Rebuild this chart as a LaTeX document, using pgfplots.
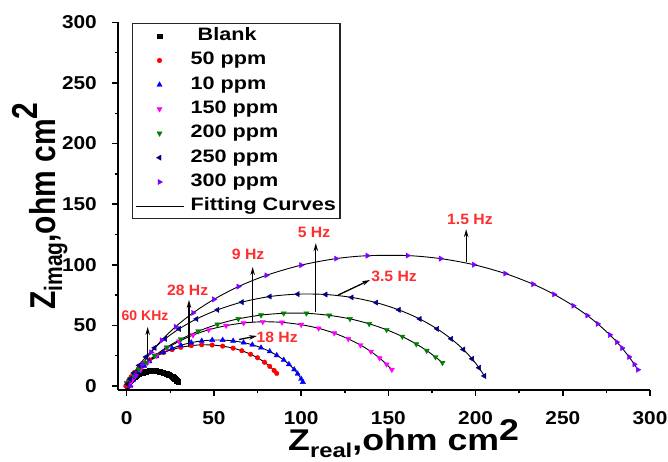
\documentclass[border=0pt]{standalone}
\usepackage{fontspec}
\setmainfont{Liberation Sans}
\usepackage{graphicx}
\usepackage{pgfplots}
\pgfplotsset{compat=1.18}
\usepackage{pgfplotstable}
\usetikzlibrary{arrows.meta}

\definecolor{navyc}{RGB}{0,0,128}
\definecolor{violetc}{RGB}{128,0,255}
\definecolor{greenc}{RGB}{0,128,0}
\definecolor{magc}{RGB}{255,0,255}
\definecolor{annred}{RGB}{255,45,45}

\newcommand{\tk}[1]{\scalebox{1.12}[1]{#1}}
\newcommand{\sx}[1]{\scalebox{1.2}[1]{#1}}
\newcommand{\tkf}{\fontsize{18.6}{20}\selectfont\bfseries}
\newcommand{\legf}{\fontsize{18}{20}\selectfont\bfseries}
\newcommand{\annf}{\fontsize{15}{16}\selectfont\bfseries}

\pgfplotstableread{
x y
0.3 0.3
0.6 1.1
1 2
1.5 3
2 4
2.5 4.9
3 5.8
3.7 6.8
4.5 7.8
5.2 8.6
6 9.3
7 10
8 10.7
9 11.2
10 11.6
11 11.9
12 12.2
13 12.4
14 12.5
15 12.5
16 12.5
17 12.4
18 12.2
19 11.9
20 11.5
21 11.1
22 10.6
23 10
24 9.4
24.8 8.8
25.5 8.2
26.3 7.5
27 6.8
27.5 6.2
28 5.6
28.4 5
28.8 4.4
29.4 3.3
}\tblank

\pgfplotstableread{
x y
-0.5 0
1 4.2
2.5 7.6
4.5 11.2
7 14.9
10 18.6
13 21.6
17 24.8
21 27.5
26 30.0
31 31.9
37 33.3
43 34.0
49 33.8
55 32.9
61 31.2
66 29.1
71 26.2
75 23.3
79 19.6
82 16.2
84.5 12.8
86 10.4
}\tfifty

\pgfplotstableread{
x y
2 0
3.5 4.6
5 8.1
7 12.0
10 16.6
13 20.3
17 24.4
21 27.7
26 31.0
31 33.6
37 35.8
43 37.2
49 37.9
55 37.9
61 37.2
67 35.8
72 34.0
77 31.6
82 28.5
86 25.3
90 21.5
93 17.9
96 13.6
98 10.1
100 5.8
101 3.2
}\tten

\pgfplotstableread{
x y
1.5 1.2
3 4.5
5 8.4
8 13.5
12 19.3
17 25.3
23 31.2
30 36.8
38 42.0
47 46.4
57 49.8
67 52.0
78 53.0
89 52.5
100 50.6
110 47.6
119 43.6
127 38.9
134 33.8
140 28.4
145 23.0
149 17.9
152 13.5
}\tonefifty

\pgfplotstableread{
x y
0 2.4
2 6.0
4 9.3
7 13.8
11 19.2
16 25.0
23 32.0
31 38.6
41 45.2
52 50.9
64 55.4
77 58.5
90 60.0
103 60.0
116 58.3
128 55.4
139 51.3
149 46.4
158 40.8
166 34.6
172 29.2
177 23.9
181 19.2
}\ttwohundred

\pgfplotstableread{
x y
0.5 1.6
2 5.8
4 10.7
7 17.0
11 24.0
16 31.5
22 38.9
30 47.1
40 55.3
52 62.8
66 69.2
82 73.8
98 75.8
114 75.5
129 73.1
143 68.8
156 62.8
168 55.3
178 47.1
186 38.9
193 30.1
198 22.4
202 15.0
205 8.3
}\ttwofifty

\pgfplotstableread{
x y
2 0
5 8.5
9 17.9
14 27.8
20 37.7
28 48.9
38 60.3
50 71.5
64 82.0
80 91.3
100 99.7
120 105.1
138 107.5
161 107.6
180 105.1
199 100.1
217 92.8
233 84.0
245 75.6
256 66.2
264 58.2
270 51.3
277 42.2
281 36.2
284 31.3
288 24.0
291 17.9
293 13.4
}\tthreehundred

\begin{document}
\begin{tikzpicture}
\useasboundingbox (0,0) rectangle (668pt,462pt);
\begin{axis}[
  at={(118pt,72pt)}, anchor=south west,
  scale only axis, width=532pt, height=367.6pt,
  xmin=-5, xmax=300, ymin=-3.3, ymax=300,
  axis lines=left, axis line style={-, line width=1.8pt, black},
  xtick={0,50,...,300}, ytick={0,50,...,300},
  xticklabels={\tk{0},\tk{50},\tk{100},\tk{150},\tk{200},\tk{250},\tk{300}},
  yticklabels={\tk{0},\tk{50},\tk{100},\tk{150},\tk{200},\tk{250},\tk{300}},
  minor tick num=1,
  tick align=outside,
  major tick length=6pt, minor tick length=3.5pt,
  tick style={black, line width=1.5pt},
  ticklabel style={font=\tkf, inner sep=0pt},
  xticklabel style={anchor=north, yshift=-15pt},
  yticklabel style={anchor=east, xshift=-15pt},
  clip=false,
  legend image code/.code={\draw[line width=0.4pt,mark repeat=2,mark phase=2,#1] plot coordinates {(0pt,0pt) (24pt,0pt) (48pt,0pt)};},
  legend cell align=left,
  legend style={at={(axis description cs:0.0258,0.9976)}, anchor=north west,
    draw=black!85, line width=1.2pt, fill=white,
    inner xsep=3pt, inner ysep=2.8pt, row sep=5.3pt, column sep=6pt,
    font=\legf, nodes={inner sep=1pt, text height=13pt, text depth=4pt}},
]
\addplot[only marks, mark=square*, mark size=2.3pt, black] table {\tblank};
\addlegendentry{\hspace*{7pt}\sx{Blank}}
\addplot[only marks, mark=*, mark size=2.3pt, red] table {\tfifty};
\addlegendentry{\sx{50 ppm}}
\addplot[only marks, mark=triangle*, mark size=3pt, blue] table {\tten};
\addlegendentry{\sx{10 ppm}}
\addplot[only marks, mark=triangle*, mark size=3pt, magc, mark options={rotate=180}] table {\tonefifty};
\addlegendentry{\sx{150 ppm}}
\addplot[only marks, mark=triangle*, mark size=3pt, greenc, mark options={rotate=180}] table {\ttwohundred};
\addlegendentry{\sx{200 ppm}}
\addplot[only marks, mark=triangle*, mark size=3pt, navyc, mark options={rotate=90}] table {\ttwofifty};
\addlegendentry{\sx{250 ppm}}
\addplot[only marks, mark=triangle*, mark size=3pt, violetc, mark options={rotate=-90}] table {\tthreehundred};
\addlegendentry{\sx{300 ppm}}
\addlegendimage{black, line width=1.1pt}
\addlegendentry{\sx{Fitting Curves}}

\addplot[black, line width=0.9pt, smooth, no markers, forget plot] table {\tblank};
\addplot[black, line width=0.9pt, smooth, no markers, forget plot] table {\tfifty};
\addplot[black, line width=0.9pt, smooth, no markers, forget plot] table {\tten};
\addplot[black, line width=0.9pt, smooth, no markers, forget plot] table {\tonefifty};
\addplot[black, line width=0.9pt, smooth, no markers, forget plot] table {\ttwohundred};
\addplot[black, line width=0.9pt, smooth, no markers, forget plot] table {\ttwofifty};
\addplot[black, line width=0.9pt, smooth, no markers, forget plot] table {\tthreehundred};

\tikzset{annarrow/.style={-{Stealth[length=8pt,width=4.5pt]}, line width=1.3pt, black}}
\draw[annarrow] (axis cs:12,19.8) -- (axis cs:12,48.7);
\draw[annarrow] (axis cs:35.7,32.2) -- (axis cs:35.7,71);
\draw[annarrow] (axis cs:72.2,52.8) -- (axis cs:72.2,98.2);
\draw[annarrow] (axis cs:108.4,61.1) -- (axis cs:108.4,117.9);
\draw[annarrow] (axis cs:121.3,75.1) -- (axis cs:139.5,87.5);
\draw[annarrow] (axis cs:194.6,102.3) -- (axis cs:194.6,129.4);
\draw[annarrow] (axis cs:64.5,38.4) -- (axis cs:74.7,41.3);

\node[text=annred, font=\fontsize{14}{15}\selectfont\bfseries, inner sep=0pt] at (axis cs:10.5,57.8) {60 KHz};
\node[text=annred, font=\annf, inner sep=0pt] at (axis cs:34.9,79.2) {\scalebox{1.05}[1]{28 Hz}};
\node[text=annred, font=\annf, inner sep=0pt] at (axis cs:69.6,108.9) {\scalebox{1.05}[1]{9 Hz}};
\node[text=annred, font=\annf, inner sep=0pt] at (axis cs:107.4,127.1) {\scalebox{1.05}[1]{5 Hz}};
\node[text=annred, font=\annf, inner sep=0pt] at (axis cs:153.3,90.8) {\scalebox{1.05}[1]{3.5 Hz}};
\node[text=annred, font=\annf, inner sep=0pt] at (axis cs:196.8,137.8) {\scalebox{1.05}[1]{1.5 Hz}};
\node[text=annred, font=\annf, inner sep=0pt] at (axis cs:86.2,40.4) {\scalebox{1.05}[1]{18 Hz}};
\end{axis}
\node[anchor=base west, inner sep=0pt] at (288pt,11.5pt) {\scalebox{1.19}[1]{\fontsize{30}{30}\selectfont\bfseries Z\raisebox{-7.5pt}{\fontsize{20}{20}\selectfont real},ohm cm\raisebox{10pt}{2}}};
\node[rotate=90, anchor=base west, inner sep=0pt] at (55pt,152pt) {\scalebox{1}[1.2]{\fontsize{30}{30}\selectfont\bfseries Z\raisebox{-6pt}{\fontsize{21}{21}\selectfont imag},ohm cm\raisebox{15pt}{2}}};
\end{tikzpicture}
\end{document}
